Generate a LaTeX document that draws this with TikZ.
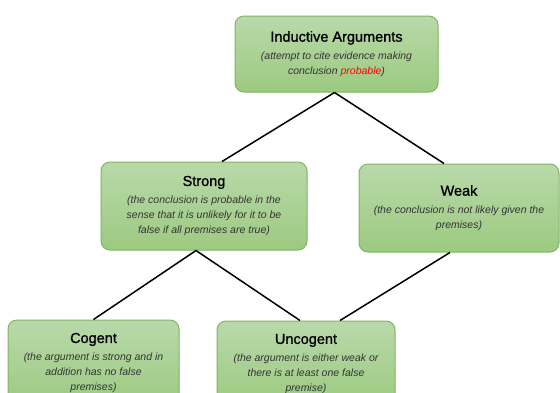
\documentclass[tikz,border=0pt]{standalone}
\usepackage{fontspec}
\setmainfont{Liberation Sans}
\newfontfamily\argtitlefont{Liberation Sans}[FakeBold=1.2]
\usetikzlibrary{positioning}
\definecolor{agFill}{HTML}{B9D9AA}
\definecolor{agFillDark}{HTML}{9CCA80}
\definecolor{agBorder}{HTML}{82B366}
\definecolor{agNote}{HTML}{333333}
\newcommand{\argtitle}[1]{{\argtitlefont\fontsize{14.5}{15}\selectfont\upshape\color{black}#1}\\[3pt]}

\begin{document}
\begin{tikzpicture}[x=1pt,y=-1pt,
  argbox/.style={draw=agBorder, line width=1pt, rounded corners=9pt,
    top color=agFill, bottom color=agFillDark, align=center, inner sep=0pt,
    text=agNote, font=\fontsize{10.5}{15}\selectfont\itshape},
  link/.style={line width=1.5pt, black}]
  \useasboundingbox (0,0) rectangle (560,392);
  % top level
  \node[argbox, minimum width=203pt, minimum height=76pt] (ind) at (336.5,54)
    {\argtitle{Inductive Arguments}(attempt to cite evidence making\\conclusion {\color{red}probable})};
  % second level
  \node[argbox, minimum width=206pt, minimum height=88pt] (strong) at (204,206)
    {\argtitle{Strong}(the conclusion is probable in the\\sense that it is unlikely for it to be\\false if all premises are true)};
  \node[argbox, minimum width=200pt, minimum height=88pt] (weak) at (459,208)
    {\argtitle{Weak}(the conclusion is not likely given the\\premises)};
  % third level
  \node[argbox, minimum width=171pt, minimum height=86pt] (cogent) at (93.5,363)
    {\argtitle{Cogent}(the argument is strong and in\\addition has no false\\premises)};
  \node[argbox, minimum width=178pt, minimum height=86pt] (uncogent) at (306,364)
    {\argtitle{Uncogent}(the argument is either weak or\\there is at least one false\\premise)};
  % connectors
  \draw[link] ([xshift=-2pt]ind.south) -- ([xshift=18pt]strong.north);
  \draw[link] ([xshift=-2pt]ind.south) -- ([xshift=-15pt]weak.north);
  \draw[link] ([xshift=-8pt]strong.south) -- (cogent.north);
  \draw[link] ([xshift=-8pt]strong.south) -- ([xshift=-6pt]uncogent.north);
  \draw[link] ([xshift=-9pt]weak.south) -- ([xshift=34pt]uncogent.north);
\end{tikzpicture}
\end{document}
